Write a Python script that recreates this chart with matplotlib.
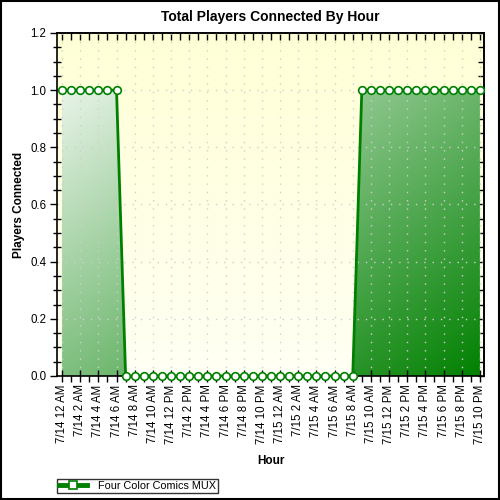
import matplotlib
matplotlib.use("Agg")
import matplotlib.pyplot as plt
import numpy as np
from matplotlib.lines import Line2D
from matplotlib.patches import Rectangle
from matplotlib.ticker import MultipleLocator, FormatStrFormatter

plt.rcParams['font.family'] = ['Liberation Sans', 'DejaVu Sans']

title = "Total Players Connected By Hour"
series_name = "Four Color Comics MUX"
hours = list(range(47))
players = [1, 1, 1, 1, 1, 1, 1,
           0, 0, 0, 0, 0, 0, 0, 0, 0, 0, 0, 0, 0, 0, 0, 0, 0, 0, 0, 0, 0, 0, 0, 0, 0, 0,
           1, 1, 1, 1, 1, 1, 1, 1, 1, 1, 1, 1, 1, 1]
tick_hours = list(range(0, 47, 2))
tick_labels = ["7/14 12 AM", "7/14 2 AM", "7/14 4 AM", "7/14 6 AM", "7/14 8 AM",
               "7/14 10 AM", "7/14 12 PM", "7/14 2 PM", "7/14 4 PM", "7/14 6 PM",
               "7/14 8 PM", "7/14 10 PM", "7/15 12 AM", "7/15 2 AM", "7/15 4 AM",
               "7/15 6 AM", "7/15 8 AM", "7/15 10 AM", "7/15 12 PM", "7/15 2 PM",
               "7/15 4 PM", "7/15 6 PM", "7/15 8 PM", "7/15 10 PM"]

GREEN = "#008000"

fig = plt.figure(figsize=(5, 5), dpi=100)
ax = fig.add_axes([0.1146, 0.248, 0.8534, 0.686])
xlim = (-0.52, 46.45)
ylim = (0, 1.2)
ax.set_xlim(*xlim)
ax.set_ylim(*ylim)

# background gradient (vertical yellow)
n = 200
v = np.linspace(0, 1, n)[:, None] * np.ones((1, n))
top = np.array([255, 255, 214]) / 255
bot = np.array([255, 255, 244]) / 255
bg = top[None, None, :] * (1 - v[..., None]) + bot[None, None, :] * v[..., None]
ax.imshow(bg, extent=(*xlim, *ylim), aspect='auto', origin='upper', zorder=0)

# fill gradient (diagonal white -> green)
u = np.linspace(0, 1, n)[None, :] * np.ones((n, 1))
w = np.linspace(0, 1, n)[:, None] * np.ones((1, n))
t = (u + w) / 2
c0 = np.array([255, 255, 255]) / 255
c1 = np.array([0, 128, 0]) / 255
grad = c0[None, None, :] * (1 - t[..., None]) + c1[None, None, :] * t[..., None]
im = ax.imshow(grad, extent=(*xlim, *ylim), aspect='auto', origin='upper', zorder=1)
poly = ax.fill_between(hours, players, 0, color='none', lw=0)
clip = poly.get_paths()[0]
im.set_clip_path(clip, ax.transData)

ax.set_xticks(tick_hours)
ax.set_xticklabels(tick_labels, rotation=90, fontsize=8.3)
ax.xaxis.set_minor_locator(MultipleLocator(1))
ax.yaxis.set_major_locator(MultipleLocator(0.2))
ax.yaxis.set_minor_locator(MultipleLocator(0.05))
ax.yaxis.set_major_formatter(FormatStrFormatter('%.1f'))
ax.tick_params(axis='y', labelsize=8.3)

ax.grid(True, which='major', color='#cfcfcf', linestyle=(0, (1, 5)), linewidth=1)
for gl in ax.get_xgridlines() + ax.get_ygridlines():
    gl.set_zorder(0.5)

ax.plot(hours, players, color=GREEN, lw=2, marker='o', ms=5.5,
        mfc='white', mec=GREEN, mew=1.2, zorder=3, clip_on=False)

ax.tick_params(axis='x', which='major', direction='inout', length=8, width=1, pad=2)
ax.tick_params(axis='x', which='minor', direction='out', length=4, width=1)
ax.tick_params(axis='y', which='major', direction='out', length=5, width=1, pad=3)
ax.tick_params(axis='y', which='minor', direction='inout', length=6, width=1)
for s in ax.spines.values():
    s.set_linewidth(1.2)
    s.set_color('black')
ax.tick_params(axis='x', which='both', top=False)
ax.tick_params(axis='y', which='both', right=False)
secx = ax.secondary_xaxis('top')
secx.xaxis.set_major_locator(MultipleLocator(1))
secx.tick_params(direction='in', length=5, width=1, labeltop=False)
secx.spines['top'].set_linewidth(1.2)
secy = ax.secondary_yaxis('right')
secy.yaxis.set_major_locator(MultipleLocator(0.05))
secy.tick_params(direction='in', length=4, width=1, labelright=False)
secy.spines['right'].set_linewidth(1.2)

ax.set_title(title, fontsize=10, fontweight='bold', pad=9)
ax.set_ylabel("Players Connected", fontsize=8.5, fontweight='bold', labelpad=4)
ax.set_xlabel("Hour", fontsize=8.5, fontweight='bold', labelpad=8)

handle = Line2D([], [], color=GREEN, lw=3.5, marker='s', ms=6, mfc='white',
                mec=GREEN, mew=1.2)
leg = fig.legend([handle], [series_name], loc='lower left',
                 bbox_to_anchor=(0.114, 0.014), fontsize=7.8, frameon=True,
                 fancybox=False, shadow=False, borderpad=0.2, handlelength=2.6,
                 handletextpad=1.0, borderaxespad=0)
leg.get_frame().set_edgecolor('black')
leg.get_frame().set_linewidth(1)

fig.patches.append(Rectangle((0.001, 0.002), 0.996, 0.997, transform=fig.transFigure,
                             fill=False, edgecolor='black', lw=1.5))

fig.savefig("out.png", dpi=100)
